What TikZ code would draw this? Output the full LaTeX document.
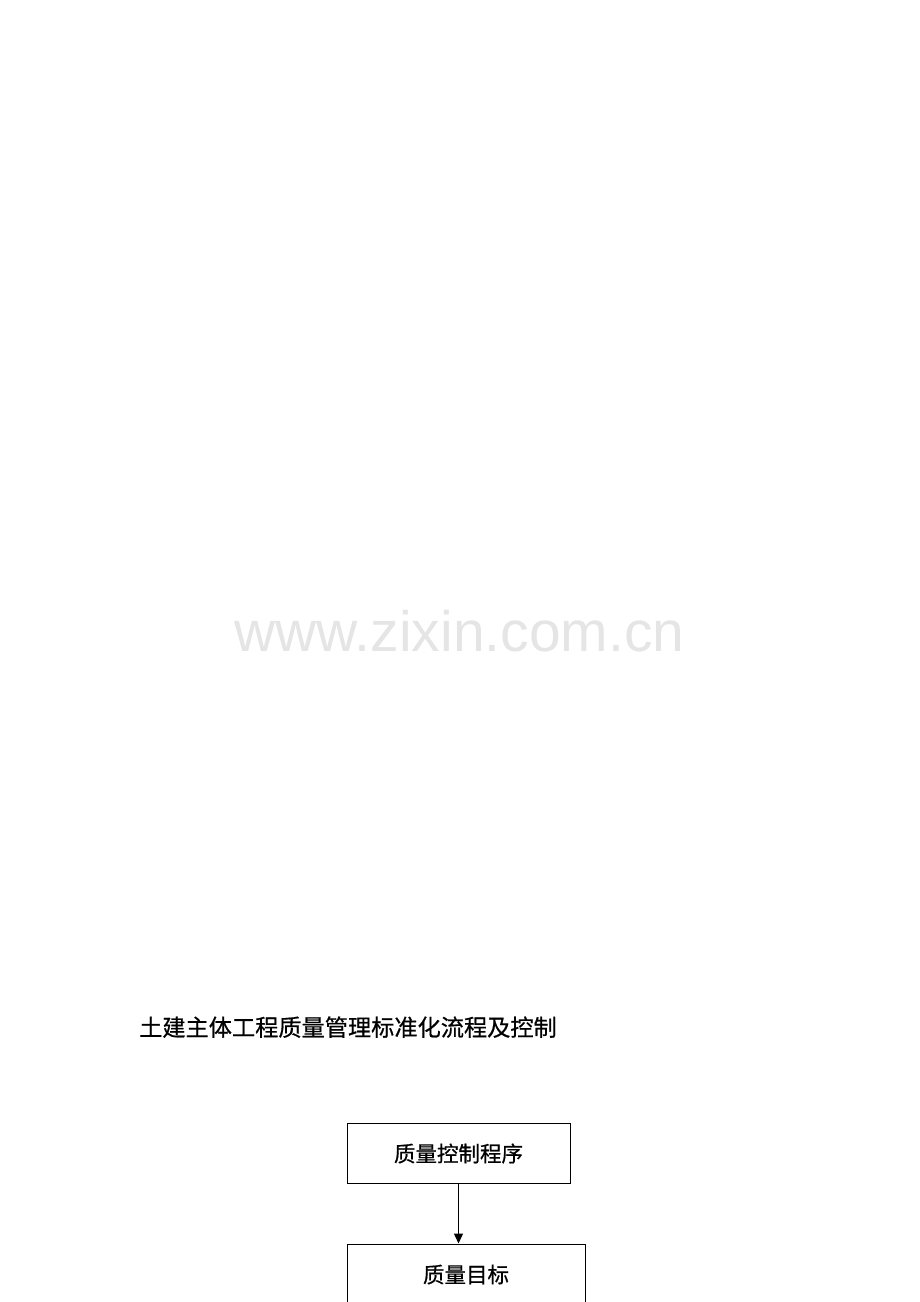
\documentclass[tikz,border=0pt]{standalone}
\usepackage{fontspec}
\setmainfont{Liberation Sans}
\newfontfamily\cjk[FakeBold=0.6]{Noto Sans CJK SC}
\usetikzlibrary{arrows.meta}

\begin{document}
\begin{tikzpicture}[x=1pt, y=-1pt]
            \tikzstyle{watermark}=[text=black!10,inner sep=0pt,font=\fontsize{57}{60}\selectfont]
            \tikzstyle{heading}=[inner sep=0pt,font=\cjk\fontsize{23.2}{27}\selectfont]
            \tikzstyle{procbox}=[draw,line width=1pt,minimum height=60pt,inner sep=0pt,font=\cjk\fontsize{21.5}{26}\selectfont]

            \useasboundingbox (0,0) rectangle (920,1302);

            \node[watermark,anchor=base] (zixin) at (459.5,651) {www.zixin.com.cn};
            \node[heading,anchor=base west] (title) at (139,1036) {土建主体工程质量管理标准化流程及控制};

            \node[procbox,minimum width=223pt] (program) at (458.5,1153.5) {质量控制程序};
            \node[procbox,minimum width=238pt,minimum height=61pt] (goal) at (466,1274.5) {质量目标};

            \draw[line width=1.4pt,-{Triangle[length=10pt,width=9pt]}] (program.south) -- (program.south |- goal.north);
        \end{tikzpicture}
\end{document}
